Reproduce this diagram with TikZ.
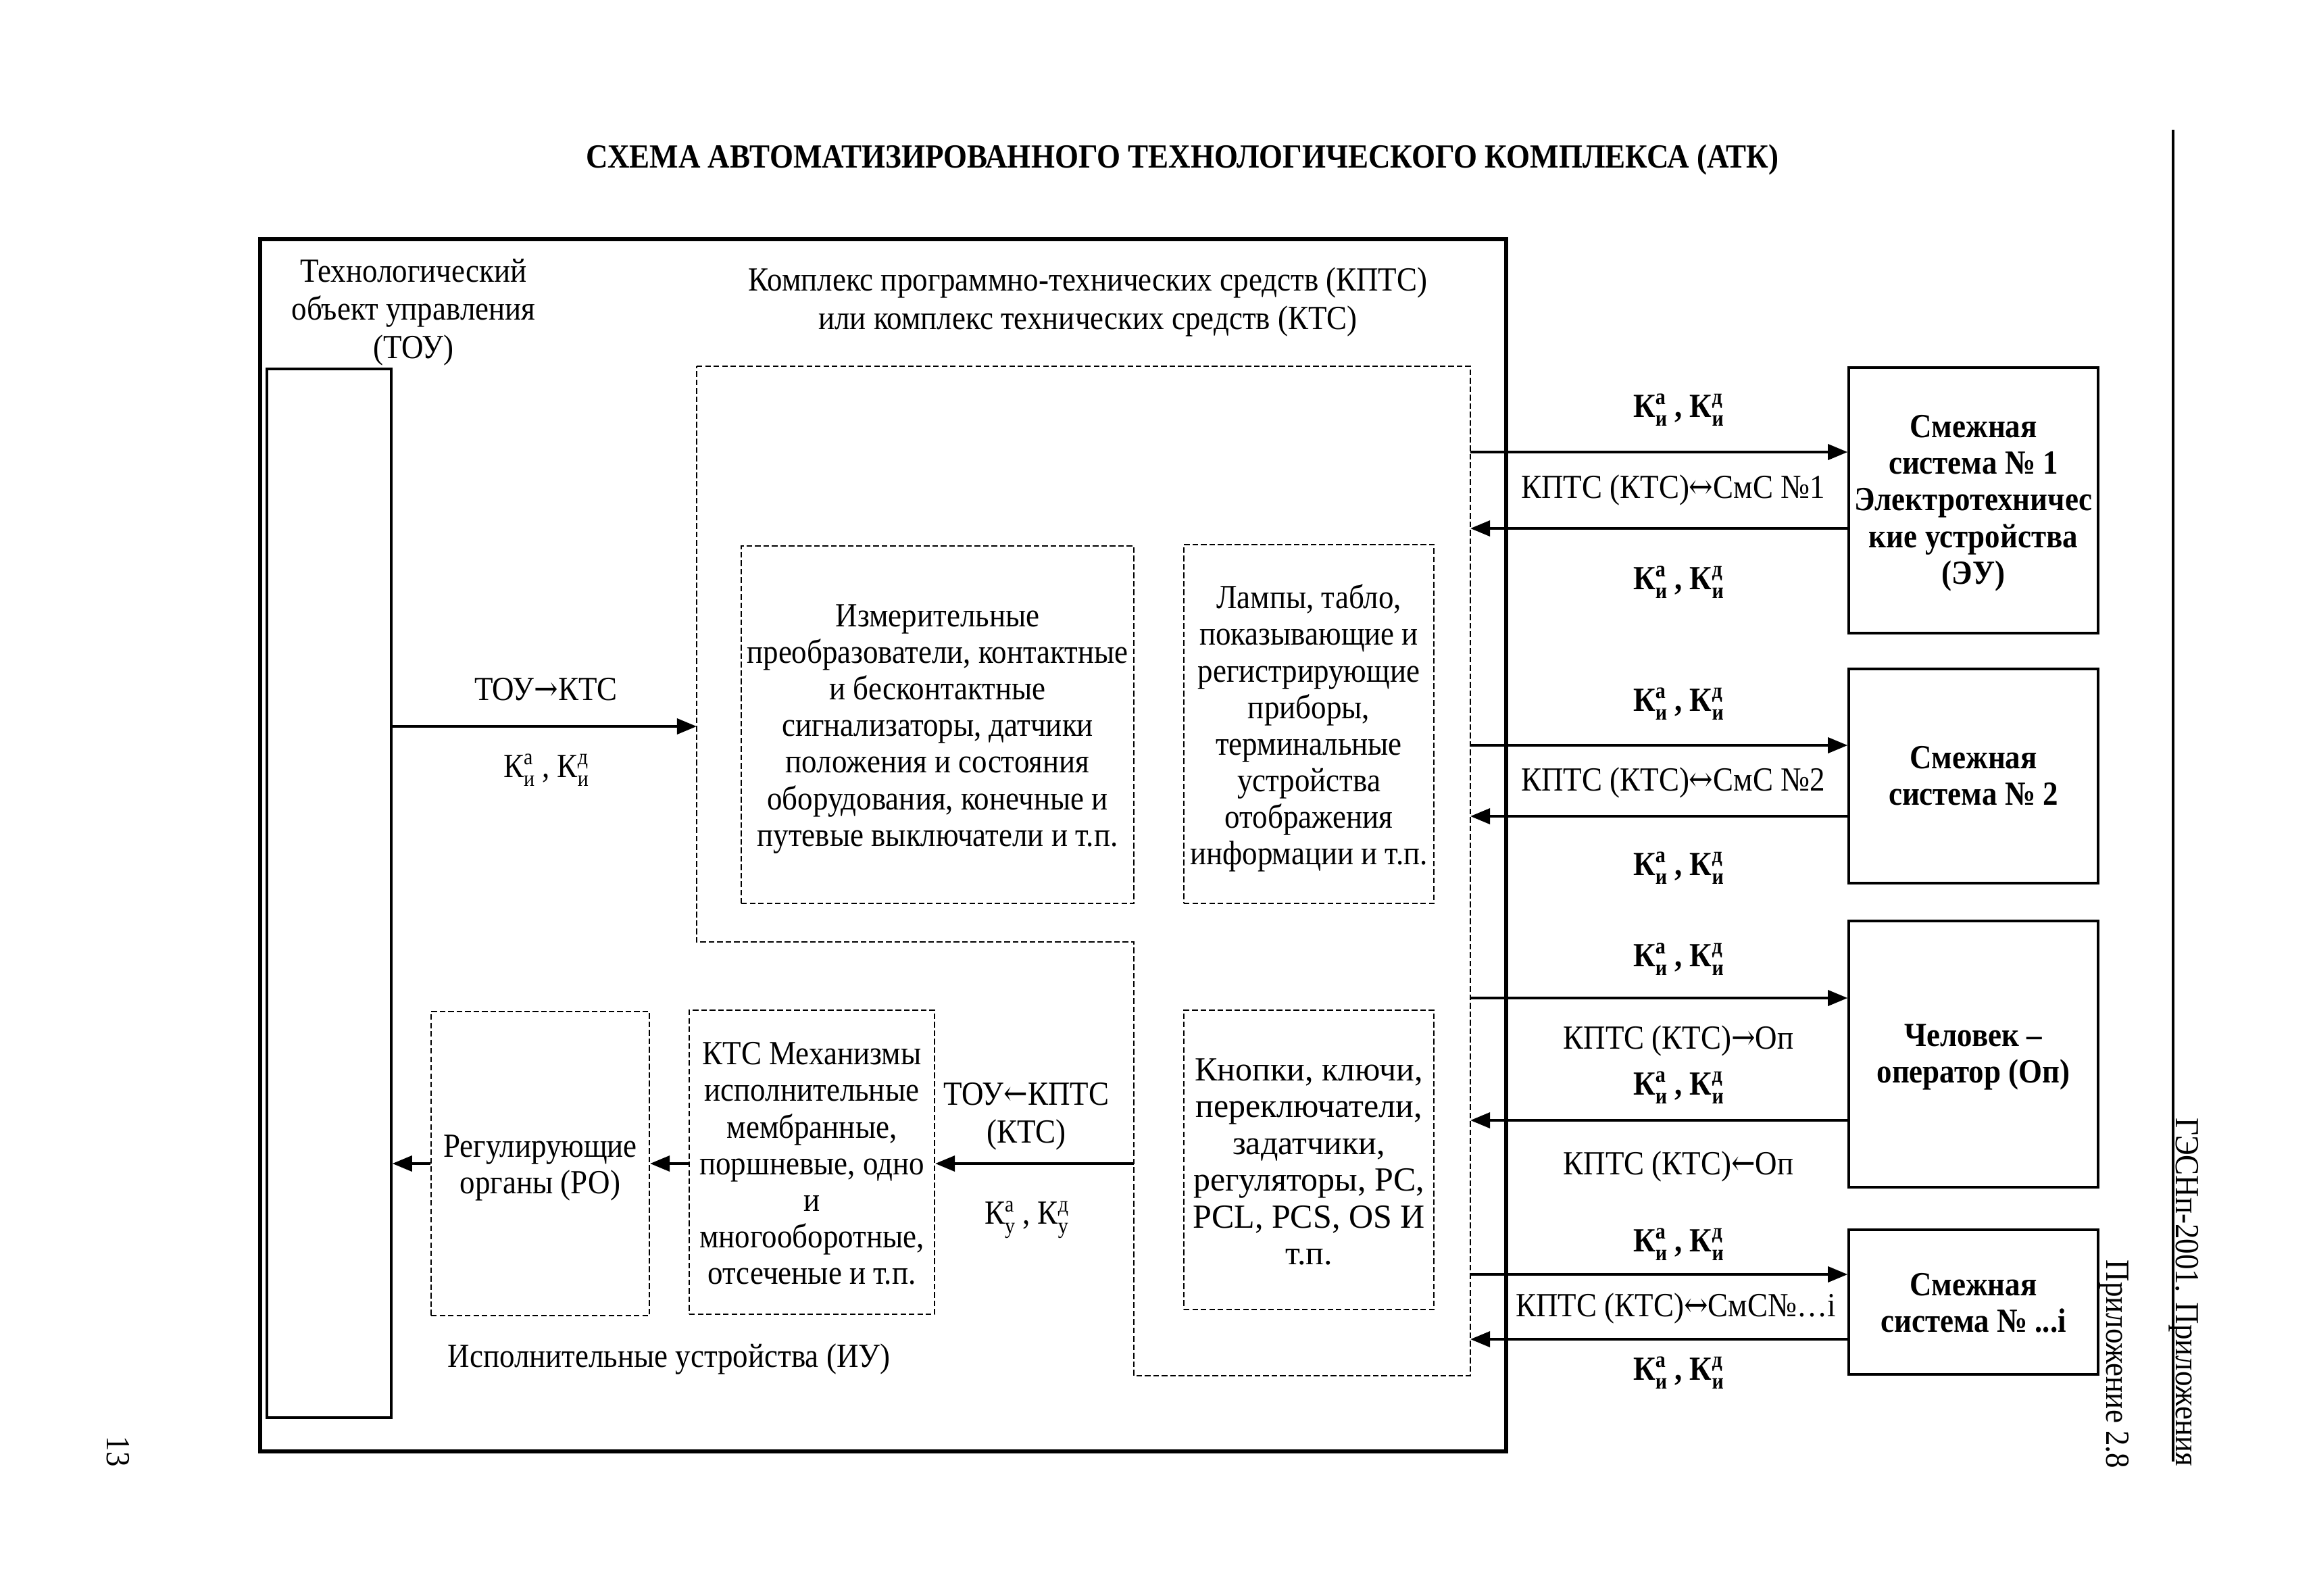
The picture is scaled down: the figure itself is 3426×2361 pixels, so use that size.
\documentclass[tikz,border=0pt]{standalone}
\usepackage{fontspec}
\usetikzlibrary{arrows.meta,fit}
\setmainfont{Liberation Serif}[FakeStretch=0.9]
\newfontfamily\wideserif{Liberation Serif}
\newfontfamily\arrfont{DejaVu Serif}[FakeStretch=0.85]
\newcommand{\KK}[2]{К\rlap{\textsuperscript{#1}}\raisebox{-0.6ex}{\footnotesize #2}}
\newcommand{\KKpair}[2]{\KK{а}{#1} , \KK{д}{#2}}
\newcommand{\rar}{{\arrfont\mdseries →}}
\newcommand{\lar}{{\arrfont\mdseries ←}}
\newcommand{\lrar}{{\arrfont\mdseries ↔}}
\begin{document}
\begin{tikzpicture}[x=0.24pt,y=-0.24pt,
  every node/.style={font=\fontsize{12}{13.5}\selectfont, inner sep=0pt},
  outerframe/.style={draw, line width=1.6pt, inner sep=0pt},
  sbox/.style={draw, line width=0.8pt, inner sep=0pt},
  dbox/.style={draw, line width=0.5pt, dash pattern=on 2pt off 1pt, inner sep=0pt},
  dline/.style={line width=0.5pt, dash pattern=on 2pt off 1pt},
  arr/.style={line width=1pt, -{Triangle[length=7pt,width=5.5pt]}},
  lbl/.style={align=center},
  intext/.style={align=center, yshift=-1.5pt, font=\fontsize{12}{13}\selectfont},
  blbl/.style={align=center, font=\bfseries\fontsize{12}{13.5}\selectfont},
  rbold/.style={align=center, yshift=-1pt, font=\bfseries\fontsize{12}{13}\selectfont},
]
\useasboundingbox (0,0) rectangle (3426,2361);

\node (title) [font=\bfseries\fontsize{12}{14}\selectfont] at (1750,236) {СХЕМА АВТОМАТИЗИРОВАННОГО ТЕХНОЛОГИЧЕСКОГО КОМПЛЕКСА (АТК)};

\node (frame) [outerframe, fit={(385,354) (2229,2148)}] {};

\coordinate (vt) at (3216,192);
\coordinate (vb) at (3216,2163);
\draw[line width=1pt] (vt) -- (vb);
\node (hdr) [rotate=-90] at (3232,1912) {ГЭСНп-2001. Приложения};
\node (app) [rotate=-90] at (3129,2019) {Приложение 2.8};
\node (pg) [rotate=-90] at (175,2148) {13};

\node (toutxt) [lbl] at (612,462) {Технологический\\объект управления\\(ТОУ)};
\node (kptstxt) [lbl] at (1610,447) {Комплекс программно-технических средств (КПТС)\\или комплекс технических средств (КТС)};

\node (tou) [sbox, fit={(395,546) (579,2098)}] {};

\draw[dline] (1031,542) coordinate (k1) -- (2176,542) coordinate (k2) -- (2176,2036) coordinate (k3) -- (1678,2036) coordinate (k4) -- (1678,1394) coordinate (k5) -- (1031,1394) coordinate (k6) -- cycle;

\node (izm) [dbox, fit={(1097,808) (1678,1337)}] {};
\node (izmt) [intext] at (izm.center) {Измерительные\\преобразователи, контактные\\и бесконтактные\\сигнализаторы, датчики\\положения и состояния\\оборудования, конечные и\\путевые выключатели и т.п.};
\node (lamp) [dbox, fit={(1752,806) (2122,1337)}] {};
\node (lampt) [intext] at (lamp.center) {Лампы, табло,\\показывающие и\\регистрирующие\\приборы,\\терминальные\\устройства\\отображения\\информации и т.п.};
\node (knop) [dbox, fit={(1752,1495) (2122,1938)}] {};
\node (knopt) [intext, yshift=0.8pt, font=\wideserif\fontsize{12}{13.1}\selectfont] at (knop.center) {Кнопки, ключи,\\переключатели,\\задатчики,\\регуляторы, PC,\\PCL, PCS, OS И\\т.п.};
\node (ktsm) [dbox, fit={(1020,1495) (1383,1945)}] {};
\node (ktsmt) [intext, yshift=1pt] at (ktsm.center) {КТС Механизмы\\исполнительные\\мембранные,\\поршневые, одно\\и\\многооборотные,\\отсеченые и т.п.};
\node (reg) [dbox, fit={(638,1497) (961,1947)}] {};
\node (regt) [intext] at (reg.center) {Регулирующие\\органы (РО)};
\node (iu) at (990,2012) {Исполнительные устройства (ИУ)};

% TOU -> KTS
\coordinate (kin) at (1031,1075);
\draw[arr] (tou.east |- kin) -- (kin);
\node (l1) at (808,1020) {ТОУ\rar КТС};
\node (l2) at (808,1140) {\KKpair{и}{и}};

% KPTS -> actuators
\coordinate (kout) at (1678,1722);
\draw[arr] (kout) -- (ktsm.east |- kout);
\draw[arr] (ktsm.west |- kout) -- (reg.east |- kout);
\draw[arr] (reg.west |- kout) -- (tou.east |- kout);
\node (l3) [lbl] at (1519,1652) {ТОУ\lar КПТС\\(КТС)};
\node (l4) at (1519,1805) {\KKpair{у}{у}};

% right boxes
\node (smc1) [sbox, fit={(2736,544) (3105,937)}] {};
\node (smc1t) [rbold] at (smc1.center) {Смежная\\система № 1\\Электротехничес\\кие устройства\\(ЭУ)};
\node (smc2) [sbox, fit={(2736,990) (3105,1307)}] {};
\node (smc2t) [rbold, yshift=1pt] at (smc2.center) {Смежная\\система № 2};
\node (oper) [sbox, fit={(2736,1363) (3105,1757)}] {};
\node (opert) [rbold] at (oper.center) {Человек –\\оператор (Оп)};
\node (smci) [sbox, fit={(2736,1820) (3105,2034)}] {};
\node (smcit) [rbold, yshift=0.7pt] at (smci.center) {Смежная\\система № ...i};

\coordinate (r1o) at (2176,669);
\coordinate (r1i) at (2176,782);
\draw[arr] (r1o) -- (smc1.west |- r1o);
\draw[arr] (smc1.west |- r1i) -- (r1i);
\node (a1) [blbl] at (2484,607) {\KKpair{и}{и}};
\node (b1) at (2476,725) {КПТС (КТС)\lrar СмС №1};
\node (c1) [blbl] at (2484,862) {\KKpair{и}{и}};

\coordinate (r2o) at (2176,1103);
\coordinate (r2i) at (2176,1208);
\draw[arr] (r2o) -- (smc2.west |- r2o);
\draw[arr] (smc2.west |- r2i) -- (r2i);
\node (a2) [blbl] at (2484,1042) {\KKpair{и}{и}};
\node (b2) at (2476,1158) {КПТС (КТС)\lrar СмС №2};
\node (c2) [blbl] at (2484,1285) {\KKpair{и}{и}};

\coordinate (r3o) at (2176,1477);
\coordinate (r3i) at (2176,1658);
\draw[arr] (r3o) -- (oper.west |- r3o);
\draw[arr] (oper.west |- r3i) -- (r3i);
\node (a3) [blbl] at (2484,1420) {\KKpair{и}{и}};
\node (b3) at (2484,1540) {КПТС (КТС)\rar Оп};
\node (c3) [blbl] at (2484,1610) {\KKpair{и}{и}};
\node (d3) at (2484,1726) {КПТС (КТС)\lar Оп};

\coordinate (r4o) at (2176,1886);
\coordinate (r4i) at (2176,1982);
\draw[arr] (r4o) -- (smci.west |- r4o);
\draw[arr] (smci.west |- r4i) -- (r4i);
\node (a4) [blbl] at (2484,1842) {\KKpair{и}{и}};
\node (b4) at (2480,1936) {КПТС (КТС)\lrar СмС№…i};
\node (c4) [blbl] at (2484,2032) {\KKpair{и}{и}};
\end{tikzpicture}
\end{document}
